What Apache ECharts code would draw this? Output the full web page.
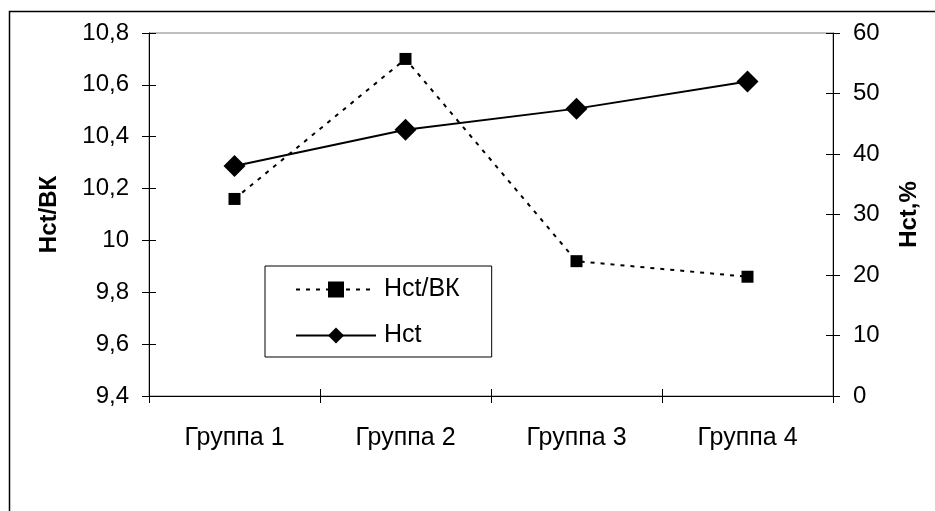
<!DOCTYPE html>
<html>
<head>
<meta charset="utf-8">
<script src="https://cdn.jsdelivr.net/npm/echarts@6/dist/echarts.min.js"></script>
<style>
  html, body { margin: 0; padding: 0; background: #fff; }
  #chart { width: 935px; height: 511px; }
</style>
</head>
<body>
<div id="chart"></div>
<script>
// Group labels along the x axis
const categories = ['Группа 1', 'Группа 2', 'Группа 3', 'Группа 4'];
// Hct/BK ratio per group (left axis)
const hctBkValues = [10.16, 10.70, 9.92, 9.86];
// Hematocrit, % per group (right axis)
const hctValues = [38, 44, 47.5, 52];

const FONT = 'Arial, "Liberation Sans", sans-serif';
const commaFmt = v => String(Number(v.toFixed(1))).replace('.', ',');

const chart = echarts.init(document.getElementById('chart'), null, { renderer: 'canvas' });

const grid = { left: 149, right: 102, top: 33, bottom: 115, show: true, borderColor: '#808080', borderWidth: 1, backgroundColor: 'transparent' };

const axisLineStyle = { color: '#000', width: 1 };

chart.setOption({
  animation: false,
  backgroundColor: '#fff',
  graphic: [{
    type: 'rect',
    shape: { x: 9.5, y: 11.5, width: 1000, height: 1000 },
    style: { fill: 'none', stroke: '#000', lineWidth: 1.5 },
    silent: true
  }],
  grid: grid,
  legend: {
    orient: 'vertical',
    left: 265,
    top: 266,
    padding: [11, 32, 9, 30],
    itemWidth: 80,
    itemHeight: 20,
    itemGap: 21,
    borderColor: '#000',
    borderWidth: 1,
    backgroundColor: '#fff',
    textStyle: { fontFamily: FONT, fontSize: 25, color: '#000', padding: [0, 0, 0, 3] },
    data: ['Hct/ВК', 'Hct']
  },
  xAxis: [{
    type: 'category',
    data: categories,
    axisLine: { lineStyle: axisLineStyle },
    axisTick: { show: true, length: 7, lineStyle: axisLineStyle },
    axisLabel: { color: '#000', fontFamily: FONT, fontSize: 25, margin: 30 },
    splitLine: { show: false }
  }, {
    // inner half of the crossing ticks
    type: 'category',
    data: categories,
    position: 'bottom',
    axisLine: { show: false },
    axisTick: { show: true, inside: true, length: 7, lineStyle: axisLineStyle },
    axisLabel: { show: false },
    splitLine: { show: false }
  }],
  yAxis: [{
    type: 'value',
    min: 9.4, max: 10.8, interval: 0.2,
    position: 'left',
    name: 'Hct/ВК',
    nameLocation: 'middle',
    nameRotate: 90,
    nameGap: 88,
    nameTextStyle: { fontFamily: FONT, fontSize: 24, fontWeight: 'bold', color: '#000' },
    axisLine: { show: true, lineStyle: axisLineStyle },
    axisTick: { show: true, length: 7, lineStyle: axisLineStyle },
    axisLabel: { color: '#000', fontFamily: FONT, fontSize: 24, margin: 20, formatter: commaFmt },
    splitLine: { show: false }
  }, {
    type: 'value',
    min: 0, max: 60, interval: 10,
    position: 'right',
    name: 'Hct,%',
    nameLocation: 'middle',
    nameRotate: 90,
    nameGap: 64,
    nameTextStyle: { fontFamily: FONT, fontSize: 24, fontWeight: 'bold', color: '#000' },
    axisLine: { show: true, lineStyle: axisLineStyle },
    axisTick: { show: true, length: 7, lineStyle: axisLineStyle },
    axisLabel: { color: '#000', fontFamily: FONT, fontSize: 24, margin: 20 },
    splitLine: { show: false }
  }, {
    type: 'value',
    min: 9.4, max: 10.8, interval: 0.2,
    position: 'left',
    axisLine: { show: false },
    axisTick: { show: true, inside: true, length: 7, lineStyle: axisLineStyle },
    axisLabel: { show: false },
    splitLine: { show: false }
  }, {
    type: 'value',
    min: 0, max: 60, interval: 10,
    position: 'right',
    axisLine: { show: false },
    axisTick: { show: true, inside: true, length: 7, lineStyle: axisLineStyle },
    axisLabel: { show: false },
    splitLine: { show: false }
  }],
  series: [{
    name: 'Hct/ВК',
    type: 'line',
    yAxisIndex: 0,
    data: hctBkValues,
    symbol: 'rect',
    symbolSize: 12,
    itemStyle: { color: '#000' },
    lineStyle: { color: '#000', width: 2, type: [4, 6] },
    z: 3
  }, {
    name: 'Hct',
    type: 'line',
    yAxisIndex: 1,
    data: hctValues,
    symbol: 'diamond',
    symbolSize: 22,
    itemStyle: { color: '#000' },
    lineStyle: { color: '#000', width: 2, type: 'solid' },
    z: 4
  }]
});
</script>
</body>
</html>
